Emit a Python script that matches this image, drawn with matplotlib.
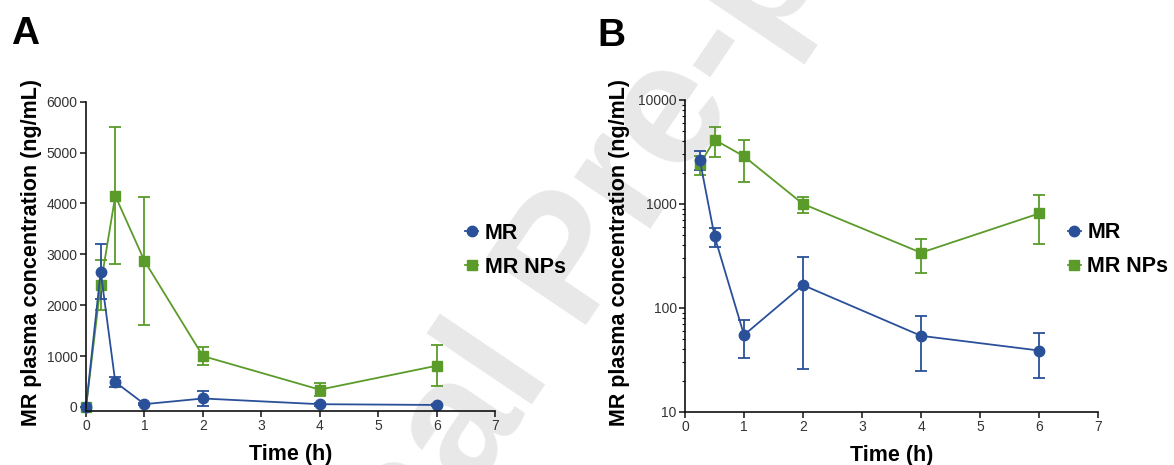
import matplotlib
matplotlib.use("Agg")
import matplotlib.pyplot as plt
from matplotlib.lines import Line2D
import numpy as np

plt.rcParams['font.family'] = ['Liberation Sans', 'DejaVu Sans']

# Data
time_a = [0, 0.25, 0.5, 1, 2, 4, 6]
mr_a = [0, 2660, 490, 55, 166, 54, 39]
mr_a_err = [0, 540, 100, 22, 140, 29, 18]
np_a = [0, 2400, 4150, 2870, 1000, 340, 810]
np_a_err = [0, 490, 1350, 1250, 175, 125, 400]

time_b = [0.25, 0.5, 1, 2, 4, 6]
mr_b = mr_a[1:]
mr_b_err = mr_a_err[1:]
np_b = np_a[1:]
np_b_err = np_a_err[1:]

x_ticks = [0, 1, 2, 3, 4, 5, 6, 7]
ya_ticks = [0, 1000, 2000, 3000, 4000, 5000, 6000]
yb_ticks = [10, 100, 1000, 10000]

BLUE = '#2a5099'
GREEN = '#5b9b2a'
TICKC = '#333333'

fig = plt.figure(figsize=(11.74, 4.65), dpi=100)

# watermark
fig.text(0.487, 0.43, 'Journal Pre-proof', fontsize=125, color='#e8e8e8',
         rotation=56, ha='center', va='center', fontweight='bold', zorder=-1)

axA = fig.add_axes([0.0733, 0.1161, 0.3484, 0.6652])
axB = fig.add_axes([0.5835, 0.114, 0.3518, 0.671])

def style(ax):
    ax.patch.set_alpha(0)
    for s in ['top', 'right']:
        ax.spines[s].set_visible(False)
    for s in ['left', 'bottom']:
        ax.spines[s].set_linewidth(1.2)
        ax.spines[s].set_color('#111111')
    ax.tick_params(axis='both', which='major', direction='out', length=4, width=1.1,
                   labelsize=10, labelcolor=TICKC, color='#111111', pad=2)
    ax.tick_params(axis='both', which='minor', direction='out', length=2, width=0.8,
                   color='#111111')

def draw(ax, t1, y1, e1, t2, y2, e2):
    ax.errorbar(t2, y2, yerr=e2, color=GREEN, marker='s', markersize=7.5,
                linewidth=1.3, elinewidth=1.3, capsize=4, capthick=1.3, clip_on=False)
    ax.errorbar(t1, y1, yerr=e1, color=BLUE, marker='o', markersize=7.5,
                linewidth=1.3, elinewidth=1.3, capsize=4, capthick=1.3, clip_on=False)

draw(axA, time_a, mr_a, mr_a_err, time_a, np_a, np_a_err)
axA.set_xlim(0, 7)
axA.set_ylim(-80, 6000)
axA.set_xticks(x_ticks)
axA.set_yticks(ya_ticks)
style(axA)

draw(axB, time_b, mr_b, mr_b_err, time_b, np_b, np_b_err)
axB.set_yscale('log')
axB.set_xlim(0, 7)
axB.set_ylim(10, 10000)
axB.set_xticks(x_ticks)
axB.set_yticks(yb_ticks)
axB.set_yticklabels([str(v) for v in yb_ticks])
axB.xaxis.set_minor_locator(matplotlib.ticker.NullLocator())
style(axB)

for ax in (axA, axB):
    ax.set_xlabel('Time (h)', fontsize=15.5, fontweight='bold')
    ax.set_ylabel('MR plasma concentration (ng/mL)', fontsize=15.5, fontweight='bold')
    handles = [Line2D([0], [0], color=BLUE, marker='o', markersize=7.5, linewidth=1.3),
               Line2D([0], [0], color=GREEN, marker='s', markersize=7.5, linewidth=1.3)]
    ax.legend(handles, ['MR', 'MR NPs'], loc='center left',
              bbox_to_anchor=(0.88, 0.52), frameon=False, handlelength=0.6,
              handletextpad=0.3, labelspacing=0.6,
              prop={'size': 15.5, 'weight': 'bold'})
    ax.xaxis.set_label_coords(0.5, -0.107)

axA.yaxis.set_label_coords(-0.108, 0.512)
axB.yaxis.set_label_coords(-0.133, 0.512)

fig.text(0.009, 0.905, 'A', fontsize=28, fontweight='bold')
fig.text(0.509, 0.9, 'B', fontsize=28, fontweight='bold')

fig.savefig('out.png', dpi=100)
